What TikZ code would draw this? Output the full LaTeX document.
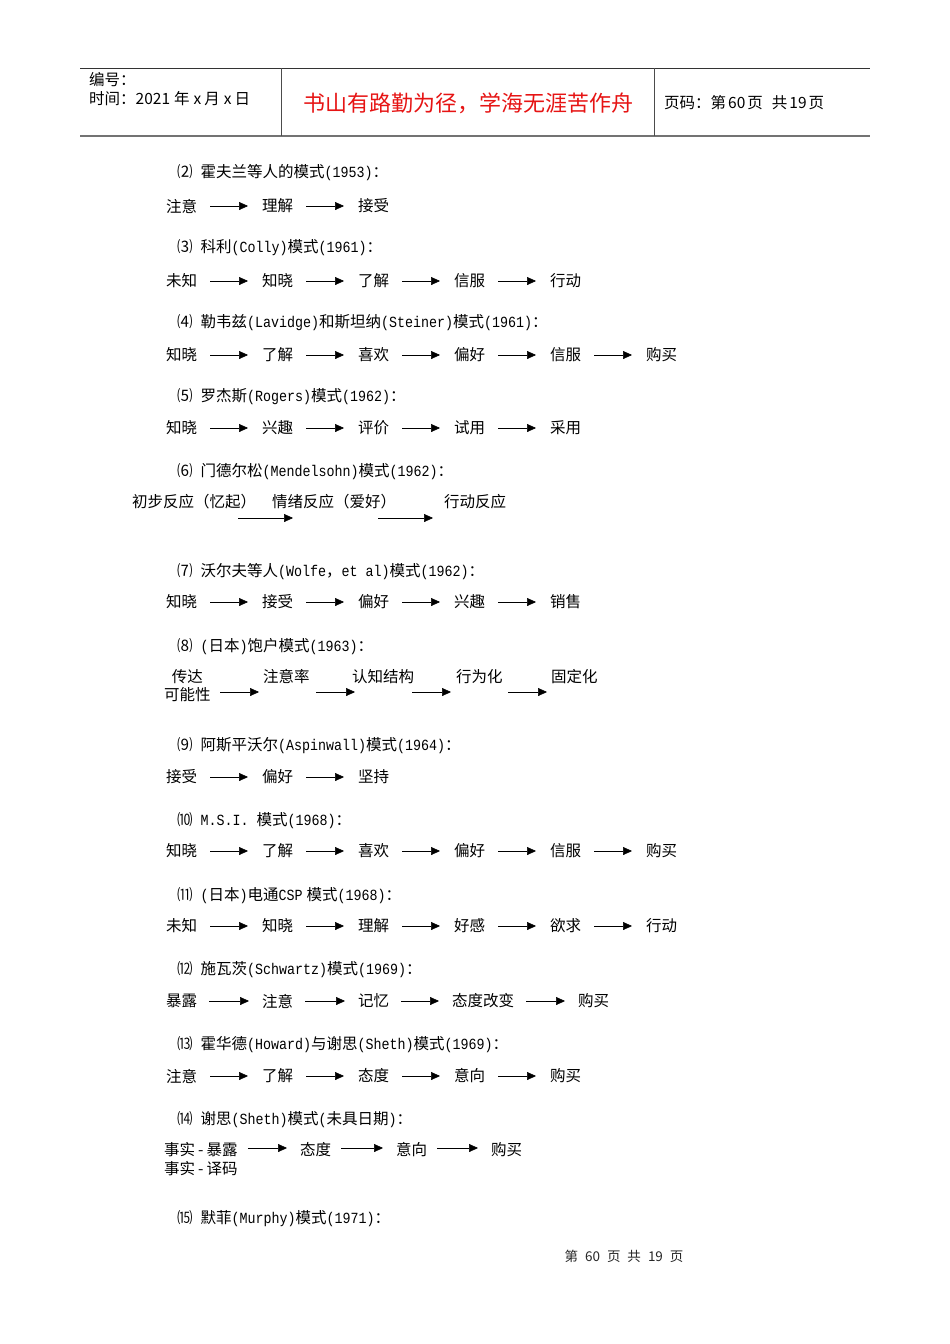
\documentclass[tikz,border=0pt]{standalone}
\usepackage{fontspec}
\setmainfont{Noto Sans CJK SC}
\newfontfamily\latmono[FakeStretch=0.86]{Liberation Mono}
\newcommand{\lat}[1]{{\latmono\fontsize{15.5}{16}\selectfont #1}}
\usetikzlibrary{arrows.meta}
\definecolor{hdrred}{RGB}{230,20,20}
\tikzset{
  it/.style={anchor=west,inner sep=0pt,font=\fontsize{15.5}{16}\selectfont},
  ttl/.style={anchor=west,inner sep=0pt,font=\fontsize{15.5}{16}\selectfont},
  hd/.style={anchor=west,inner sep=0pt,font=\fontsize{15.5}{16}\selectfont},
  arr/.style={line width=0.5pt,-{Triangle[length=9pt,width=8pt]}},
}
\begin{document}
\begin{tikzpicture}[x=1pt,y=-1pt]
\useasboundingbox (0,0) rectangle (950,1344);
% header
\draw[line width=0.8pt,black!80] (80,68) -- (870,68);
\draw[line width=1.5pt,black!55] (80,136) -- (870,136);
\draw[line width=0.8pt,black!70] (281,68) -- (281,136);
\draw[line width=0.8pt,black!70] (654,68) -- (654,136);
\node[hd] (h1) at (89,80) {编号：};
\node[hd] (h2) at (89,99) {时间：2021\hspace{4pt}年\hspace{4pt}x\hspace{3pt}月\hspace{4pt}x\hspace{3pt}日};
\node[anchor=center,inner sep=0pt,text=hdrred,font=\fontsize{22}{23}\selectfont] (h3) at (468,103) {书山有路勤为径，学海无涯苦作舟};
\node[hd] (h4) at (664,103) {页码：第\hspace{2pt}60\hspace{2pt}页\hspace{9pt}共\hspace{2pt}19\hspace{2pt}页};
% (2)
\node[ttl] (t2) at (177,173) {⑵\hspace{8pt}霍夫兰等人的模式\lat{(1953)}：};
\foreach \t [count=\i from 0, remember=\i as \p] in {注意,理解,接受}{
  \node[it] (r2-\i) at ({166+96*\i},206) {\t};
  \ifnum\i>0 \draw[arr] ([xshift=13]r2-\p.east) -- ([xshift=-14]r2-\i.west); \fi}
% (3)
\node[ttl] (t3) at (177,248) {⑶\hspace{8pt}科利\lat{(Colly)}模式\lat{(1961)}：};
\foreach \t [count=\i from 0, remember=\i as \p] in {未知,知晓,了解,信服,行动}{
  \node[it] (r3-\i) at ({166+96*\i},281) {\t};
  \ifnum\i>0 \draw[arr] ([xshift=13]r3-\p.east) -- ([xshift=-14]r3-\i.west); \fi}
% (4)
\node[ttl] (t4) at (177,323) {⑷\hspace{8pt}勒韦兹\lat{(Lavidge)}和斯坦纳\lat{(Steiner)}模式\lat{(1961)}：};
\foreach \t [count=\i from 0, remember=\i as \p] in {知晓,了解,喜欢,偏好,信服,购买}{
  \node[it] (r4-\i) at ({166+96*\i},355) {\t};
  \ifnum\i>0 \draw[arr] ([xshift=13]r4-\p.east) -- ([xshift=-14]r4-\i.west); \fi}
% (5)
\node[ttl] (t5) at (177,397) {⑸\hspace{8pt}罗杰斯\lat{(Rogers)}模式\lat{(1962)}：};
\foreach \t [count=\i from 0, remember=\i as \p] in {知晓,兴趣,评价,试用,采用}{
  \node[it] (r5-\i) at ({166+96*\i},428) {\t};
  \ifnum\i>0 \draw[arr] ([xshift=13]r5-\p.east) -- ([xshift=-14]r5-\i.west); \fi}
% (6)
\node[ttl] (t6) at (177,472) {⑹\hspace{8pt}门德尔松\lat{(Mendelsohn)}模式\lat{(1962)}：};
\node[it] (r6-0) at (132,502) {初步反应（忆起）};
\node[it] (r6-1) at (272,502) {情绪反应（爱好）};
\node[it] (r6-2) at (444,502) {行动反应};
\coordinate (a6s) at (238,518); \coordinate (a6e) at (293,518);
\coordinate (b6s) at (378,518); \coordinate (b6e) at (433,518);
\draw[arr] (a6s) -- (a6e);
\draw[arr] (b6s) -- (b6e);
% (7)
\node[ttl] (t7) at (177,572) {⑺\hspace{8pt}沃尔夫等人\lat{(Wolfe}，\lat{et al)}模式\lat{(1962)}：};
\foreach \t [count=\i from 0, remember=\i as \p] in {知晓,接受,偏好,兴趣,销售}{
  \node[it] (r7-\i) at ({166+96*\i},602) {\t};
  \ifnum\i>0 \draw[arr] ([xshift=13]r7-\p.east) -- ([xshift=-14]r7-\i.west); \fi}
% (8)
\node[ttl] (t8) at (177,647) {⑻\hspace{8pt}\lat{(}日本\lat{)}饱户模式\lat{(1963)}：};
\node[it,align=center,anchor=north west,font=\fontsize{15.5}{18}\selectfont] (r8-0) at (164,669) {传达\\可能性};
\node[it] (r8-1) at (263,677) {注意率};
\node[it] (r8-2) at (352,677) {认知结构};
\node[it] (r8-3) at (456,677) {行为化};
\node[it] (r8-4) at (551,677) {固定化};
\coordinate (a8-1) at (220,692); \coordinate (b8-1) at (259,692);
\coordinate (a8-2) at (316,692); \coordinate (b8-2) at (355,692);
\coordinate (a8-3) at (412,692); \coordinate (b8-3) at (451,692);
\coordinate (a8-4) at (508,692); \coordinate (b8-4) at (547,692);
\foreach \i in {1,...,4} \draw[arr] (a8-\i) -- (b8-\i);
% (9)
\node[ttl] (t9) at (177,746) {⑼\hspace{8pt}阿斯平沃尔\lat{(Aspinwall)}模式\lat{(1964)}：};
\foreach \t [count=\i from 0, remember=\i as \p] in {接受,偏好,坚持}{
  \node[it] (r9-\i) at ({166+96*\i},777) {\t};
  \ifnum\i>0 \draw[arr] ([xshift=13]r9-\p.east) -- ([xshift=-14]r9-\i.west); \fi}
% (10)
\node[ttl] (t10) at (177,821) {⑽\hspace{8pt}\lat{M.S.I.}\hspace{8pt}模式\lat{(1968)}：};
\foreach \t [count=\i from 0, remember=\i as \p] in {知晓,了解,喜欢,偏好,信服,购买}{
  \node[it] (r10-\i) at ({166+96*\i},851) {\t};
  \ifnum\i>0 \draw[arr] ([xshift=13]r10-\p.east) -- ([xshift=-14]r10-\i.west); \fi}
% (11)
\node[ttl] (t11) at (177,896) {⑾\hspace{8pt}\lat{(}日本\lat{)}电通\lat{CSP}\hspace{4pt}模式\lat{(1968)}：};
\foreach \t [count=\i from 0, remember=\i as \p] in {未知,知晓,理解,好感,欲求,行动}{
  \node[it] (r11-\i) at ({166+96*\i},926) {\t};
  \ifnum\i>0 \draw[arr] ([xshift=13]r11-\p.east) -- ([xshift=-14]r11-\i.west); \fi}
% (12)
\node[ttl] (t12) at (177,970) {⑿\hspace{8pt}施瓦茨\lat{(Schwartz)}模式\lat{(1969)}：};
\node[it] (r12-0) at (166,1001) {暴露};
\node[it] (r12-1) at (262,1001) {注意};
\node[it] (r12-2) at (358,1001) {记忆};
\node[it] (r12-3) at (452,1001) {态度改变};
\node[it] (r12-4) at (578,1001) {购买};
\foreach \i [remember=\i as \p (initially 0)] in {1,...,4}
  \draw[arr] ([xshift=12]r12-\p.east) -- ([xshift=-13]r12-\i.west);
% (13)
\node[ttl] (t13) at (177,1045) {⒀\hspace{8pt}霍华德\lat{(Howard)}与谢思\lat{(Sheth)}模式\lat{(1969)}：};
\foreach \t [count=\i from 0, remember=\i as \p] in {注意,了解,态度,意向,购买}{
  \node[it] (r13-\i) at ({166+96*\i},1076) {\t};
  \ifnum\i>0 \draw[arr] ([xshift=13]r13-\p.east) -- ([xshift=-14]r13-\i.west); \fi}
% (14)
\node[ttl] (t14) at (177,1120) {⒁\hspace{8pt}谢思\lat{(Sheth)}模式\lat{(}未具日期\lat{)}：};
\node[it] (r14-0) at (164,1150) {事实\hspace{3pt}-\hspace{3pt}暴露};
\node[it] (r14-0b) at (164,1169) {事实\hspace{3pt}-\hspace{3pt}译码};
\foreach \t [count=\i from 1, remember=\i as \p (initially 0)] in {态度,意向,购买}{
  \node[it] (r14-\i) at ({300+96*(\i-1)-(\i==3?1:0)},1150) {\t};
  \draw[arr] ([xshift=10,yshift=2]r14-\p.east) -- ([xshift=-13,yshift=2]r14-\i.west);}
% (15)
\node[ttl] (t15) at (177,1219) {⒂\hspace{8pt}默菲\lat{(Murphy)}模式\lat{(1971)}：};
% footer
\node[anchor=center,inner sep=0pt,font=\fontsize{13.5}{15}\selectfont,text=black!85] (ft) at (624,1256) {第\hspace{7pt}60\hspace{7pt}页\hspace{7pt}共\hspace{7pt}19\hspace{7pt}页};
\end{tikzpicture}
\end{document}
